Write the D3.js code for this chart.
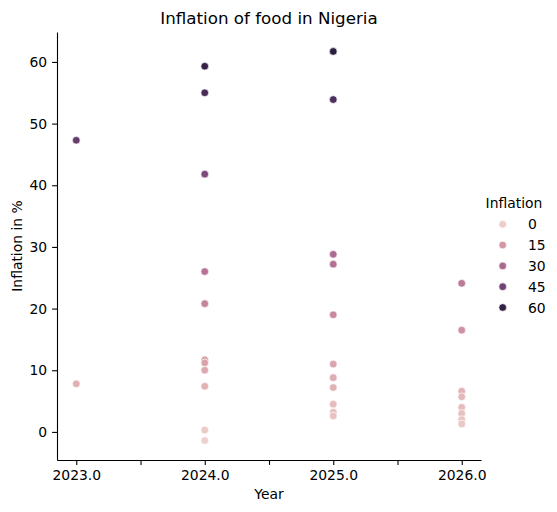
<!DOCTYPE html>
<html>
<head>
<meta charset="utf-8">
<script src="https://d3js.org/d3.v7.min.js"></script>
<style>
  body { margin: 0; background: #fff; }
  text { font-family: "DejaVu Sans", sans-serif; fill: #000; }
  .axis path, .axis line { stroke: #000; stroke-width: 1.1; }
</style>
</head>
<body>
<svg id="chart"></svg>
<script>
// values, one array per year
const years = [2023, 2024, 2025, 2026];
const inflation2023 = [47.3, 7.8];
const inflation2024 = [59.3, 55.0, 41.8, 26.0, 20.8, 11.7, 11.2, 10.0, 7.4, 0.3, -1.4];
const inflation2025 = [61.7, 53.9, 28.8, 27.2, 19.0, 11.0, 8.8, 7.2, 4.5, 3.2, 2.6];
const inflation2026 = [24.1, 16.5, 6.6, 5.7, 4.0, 3.0, 2.0, 1.3];
const xTicks = [2023, 2023.5, 2024, 2024.5, 2025, 2025.5, 2026];
const yTicks = [0, 10, 20, 30, 40, 50, 60];
const legendValues = [0, 15, 30, 45, 60];

const perYear = [inflation2023, inflation2024, inflation2025, inflation2026];
const data = [];
years.forEach((yr, i) => perYear[i].forEach(v => data.push({year: yr, value: v})));

const W = 557, H = 512;
const margin = {top: 32, right: 76, bottom: 52, left: 57};

const svg = d3.select("#chart").attr("width", W).attr("height", H);
const g = svg.append("g").attr("transform", `translate(${margin.left},${margin.top})`);
const iw = W - margin.left - margin.right, ih = H - margin.top - margin.bottom;

// matplotlib-style 5% margins
const xr = d3.extent(years), xpad = (xr[1] - xr[0]) * 0.05;
const yr = d3.extent(data, d => d.value), ypad = (yr[1] - yr[0]) * 0.05;
const x = d3.scaleLinear().domain([xr[0] - xpad, xr[1] + xpad]).range([0, iw]);
const y = d3.scaleLinear().domain([yr[0] - ypad, yr[1] + ypad]).range([ih, 0]);

// seaborn default cubehelix (start 0, rot .4, hue .8, light .85, dark .15)
function cubehelix(t) {
  const xv = 0.85 + (0.15 - 0.85) * t;
  const a = 0.8 * xv * (1 - xv) / 2;
  const phi = 2 * Math.PI * (0.4 * xv);
  const f = (p0, p1) => Math.max(0, Math.min(1, xv + a * (p0 * Math.cos(phi) + p1 * Math.sin(phi))));
  return d3.rgb(f(-0.14861, 1.78277) * 255, f(-0.29227, -0.90649) * 255, f(1.97294, 0) * 255).toString();
}
const norm = d3.scaleLinear().domain(yr).range([0, 1]);
const color = v => cubehelix(norm(v));

// axes
const xAxis = g.append("g").attr("class", "axis").attr("transform", `translate(0,${ih})`)
  .call(d3.axisBottom(x).tickValues(xTicks).tickSize(4.9).tickPadding(4.9).tickSizeOuter(0)
    .tickFormat(d => Number.isInteger(d) ? d.toFixed(1) : ""));
const yAxis = g.append("g").attr("class", "axis")
  .call(d3.axisLeft(y).tickValues(yTicks).tickSize(4.9).tickPadding(4.9).tickSizeOuter(0));
g.selectAll(".axis text").style("font-size", "13.9px").style("font-family", "DejaVu Sans");
g.selectAll(".axis").attr("font-family", null).attr("font-size", null);

// points
g.selectAll("circle.pt").data(data).enter().append("circle")
  .attr("class", "pt")
  .attr("cx", d => x(d.year))
  .attr("cy", d => y(d.value))
  .attr("r", 3.85)
  .attr("fill", d => color(d.value))
  .attr("stroke", "#fff")
  .attr("stroke-width", 0.67);

// labels
svg.append("text").attr("x", margin.left + iw / 2).attr("y", 24)
  .attr("text-anchor", "middle").style("font-size", "16.7px").text("Inflation of food in Nigeria");
svg.append("text").attr("x", margin.left + iw / 2).attr("y", 499)
  .attr("text-anchor", "middle").style("font-size", "13.9px").text("Year");
svg.append("text").attr("transform", `translate(22,${margin.top + ih / 2}) rotate(-90)`)
  .attr("text-anchor", "middle").style("font-size", "13.9px").text("Inflation in %");

// legend
const lg = svg.append("g");
lg.append("text").attr("x", 514).attr("y", 208).attr("text-anchor", "middle")
  .style("font-size", "13.9px").text("Inflation");
const items = lg.selectAll("g.item").data(legendValues).enter().append("g")
  .attr("class", "item")
  .attr("transform", (d, i) => `translate(0,${224.3 + i * 20.8})`);
items.append("circle").attr("cx", 502.7).attr("cy", 0).attr("r", 3.85)
  .attr("fill", d => color(d)).attr("stroke", "#fff").attr("stroke-width", 0.67);
items.append("text").attr("x", 528).attr("y", 5).style("font-size", "13.9px").text(d => d);
</script>
</body>
</html>
